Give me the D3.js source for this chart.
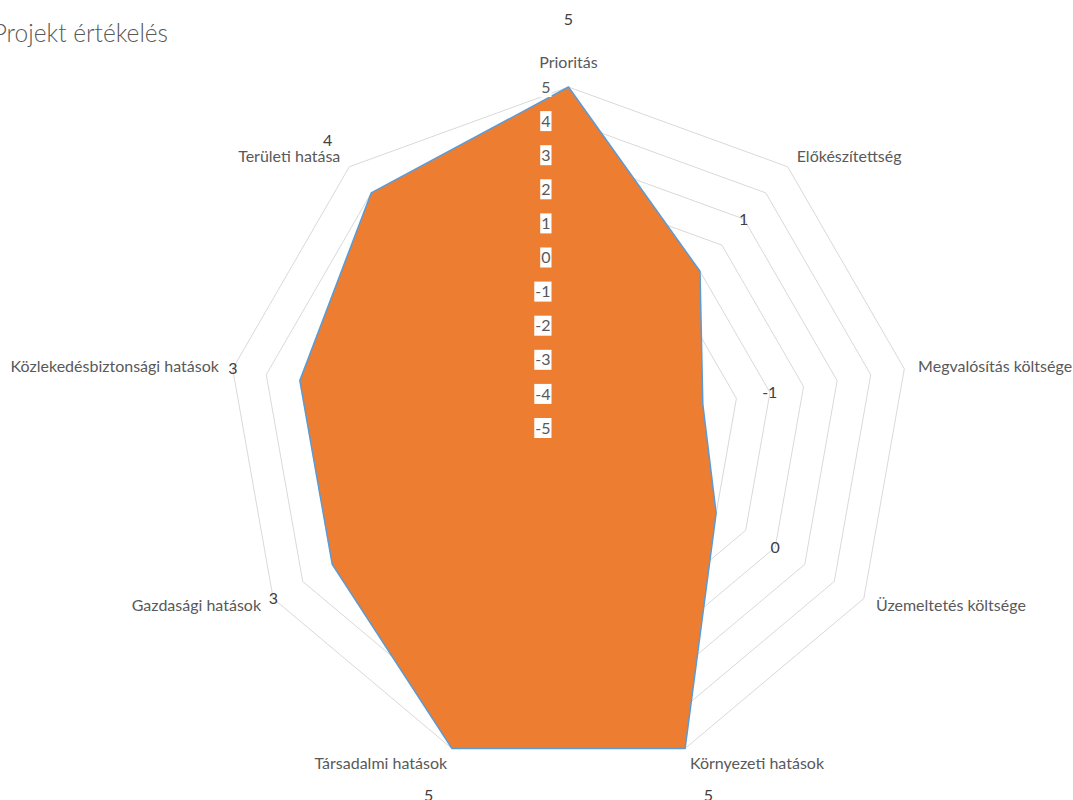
<!DOCTYPE html>
<html><head><meta charset="utf-8">
<script src="https://cdn.jsdelivr.net/npm/d3@7"></script>
<style>
body{margin:0;background:#fff}
svg{display:block}
text{font-family:Lato,"Open Sans",sans-serif}
</style>
</head><body><svg id="c" width="1073" height="800"></svg>
<script>
const chartTitle = "Projekt értékelés";
const categories = ["Prioritás","Előkészítettség","Megvalósítás költsége","Üzemeltetés költsége","Környezeti hatások","Társadalmi hatások","Gazdasági hatások","Közlekedésbiztonsági hatások","Területi hatása"];
const values = [5, 1, -1, 0, 5, 5, 3, 3, 4];
const axisTicks = [-5, -4, -3, -2, -1, 0, 1, 2, 3, 4, 5];

const svg = d3.select("#c");
const W = 1073, H = 800;
const cx = 568.5, cy = 428, R = 341;
const n = categories.length;
const rScale = d3.scaleLinear().domain([-5, 5]).range([0, R]);
const aScale = d3.scaleLinear().domain([0, n]).range([0, 2 * Math.PI]);
const pt = (i, rad) => [cx + rad * Math.sin(aScale(i)), cy - rad * Math.cos(aScale(i))];

const g = svg.append("g");

// title
svg.append("text").attr("x", 168).attr("y", 42).attr("text-anchor", "end")
  .attr("font-size", 24.5).attr("font-weight", 300).attr("fill", "#595959")
  .text(chartTitle);

// grid rings
const ring = d3.lineRadial().angle((d, i) => aScale(i)).radius(d => rScale(d)).curve(d3.curveLinearClosed);
axisTicks.filter(t => t > axisTicks[0]).forEach(t => {
  g.append("path").attr("transform", `translate(${cx},${cy})`)
    .attr("d", ring(categories.map(() => t)))
    .attr("fill", "none").attr("stroke", "#d9d9d9").attr("stroke-width", 1);
});

// series area
g.append("path").attr("transform", `translate(${cx},${cy})`)
  .attr("d", ring(values))
  .attr("fill", "#ED7D31").attr("stroke", "#5B9BD5").attr("stroke-width", 1.5)
  .attr("stroke-linejoin", "round");

// value axis labels
axisTicks.forEach(t => {
  const y = cy - rScale(t);
  const tg = g.append("g");
  const tx = tg.append("text").attr("x", cx - 18).attr("y", y).attr("dy", "0.35em")
    .attr("text-anchor", "end").attr("font-size", 16).attr("fill", "#595959").text(t);
  const bb = tx.node().getBBox();
  tg.insert("rect", "text").attr("x", bb.x - 1).attr("y", y - 10)
    .attr("width", bb.width + 2).attr("height", 20).attr("fill", "#fff");
});

// category labels
categories.forEach((c, i) => {
  const a = aScale(i);
  const s = Math.sin(a), co = Math.cos(a);
  const [x, y] = pt(i, R + 14);
  const anchor = s > 0.05 ? "start" : (s < -0.05 ? "end" : "middle");
  g.append("text").attr("x", x).attr("y", y + (co > 0.99 ? -11 : (co < -0.9 ? 2 : 0)))
    .attr("dy", "0.35em").attr("text-anchor", anchor)
    .attr("font-size", 16).attr("fill", "#595959").text(c);
});

// data labels
values.forEach((v, i) => {
  let [x, y] = pt(i, rScale(v) + 68);
  y = Math.min(y, H - 5);
  g.append("text").attr("x", x).attr("y", y).attr("dy", "0.35em")
    .attr("text-anchor", "middle").attr("font-size", 16).attr("fill", "#404040").text(v);
});
</script>
</body></html>
